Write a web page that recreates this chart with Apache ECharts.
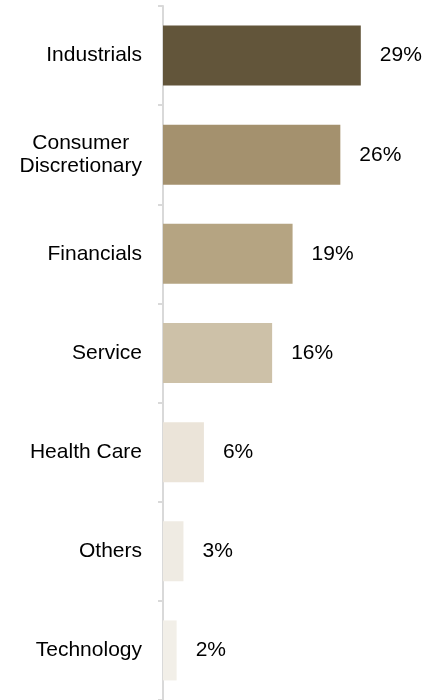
<!DOCTYPE html>
<html>
<head>
<meta charset="utf-8">
<title>Sector breakdown</title>
<script src="https://cdn.jsdelivr.net/npm/echarts@6/dist/echarts.min.js"></script>
<style>
    html, body { margin: 0; padding: 0; background: #fff; }
    #chart { width: 429px; height: 700px; }
</style>
</head>
<body>
<div id="chart"></div>
<script>
// sectors, top to bottom
var categories = ['Industrials', 'Consumer\nDiscretionary', 'Financials', 'Service', 'Health Care', 'Others', 'Technology'];
// share of portfolio, %
var values = [29, 26, 19, 16, 6, 3, 2];
// one colour per bar
var barColors = ['#62553a', '#a4916e', '#b5a482', '#cdc1a8', '#ebe4d9', '#efebe3', '#f2efe8'];

(function () {
    var myechart = echarts.init(document.getElementById('chart'));

    var data = [];
    for (var i = 0; i < values.length; i++) {
        data.push({ value: values[i], itemStyle: { color: barColors[i] } });
    }

    var options = {
        animation: false,
        grid: { left: 163, right: 0, top: 6, bottom: 0, containLabel: false },
        xAxis: {
            type: 'value',
            min: 0,
            max: 39,
            show: false
        },
        yAxis: {
            type: 'category',
            inverse: true,
            offset: 3,
            data: categories,
            axisLine: { show: true, lineStyle: { color: '#d9d9d9', width: 2 } },
            axisTick: { show: true, length: 5, lineStyle: { color: '#d9d9d9', width: 2 } },
            axisLabel: {
                margin: 18,
                color: '#000',
                fontFamily: 'Liberation Sans, Arial, sans-serif',
                fontSize: 21,
                lineHeight: 23,
                formatter: function (v) {
                    // centre the lines of wrapped labels
                    return v.split('\n').map(function (s) { return '{c|' + s + '}'; }).join('\n');
                },
                rich: {
                    c: {
                        align: 'center',
                        color: '#000',
                        fontFamily: 'Liberation Sans, Arial, sans-serif',
                        fontSize: 21,
                        lineHeight: 23
                    }
                }
            }
        },
        series: [
            {
                type: 'bar',
                barWidth: 60,
                data: data,
                label: {
                    show: true,
                    position: 'right',
                    distance: 19,
                    color: '#000',
                    fontFamily: 'Liberation Sans, Arial, sans-serif',
                    fontSize: 21,
                    formatter: '{c}%'
                }
            }
        ]
    };
    myechart.setOption(options);
})();
</script>
</body>
</html>
